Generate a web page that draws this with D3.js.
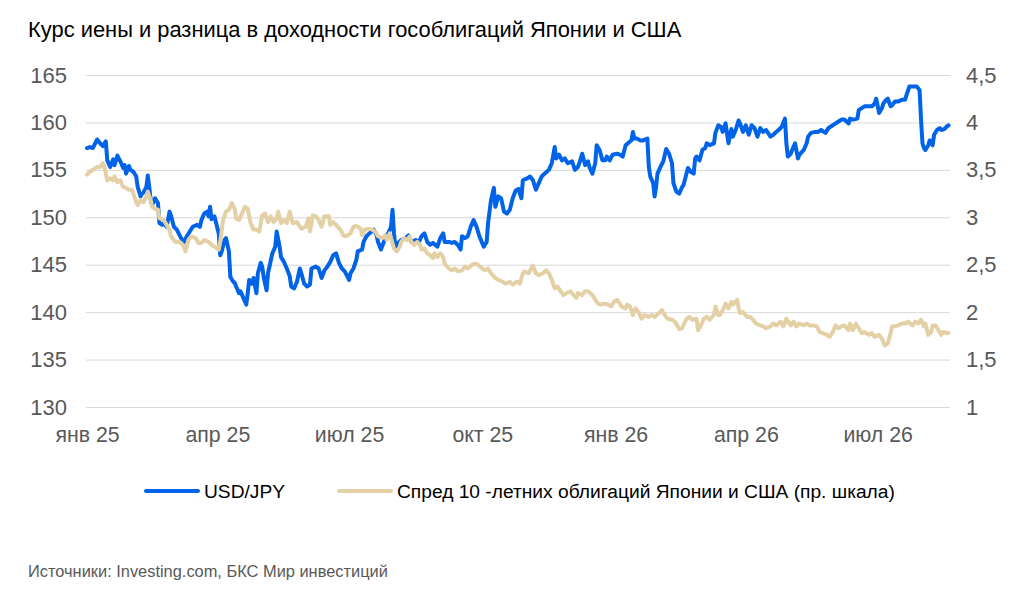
<!DOCTYPE html>
<html>
<head>
<meta charset="utf-8">
<script src="https://cdn.jsdelivr.net/npm/d3@7"></script>
<style>
  body { margin: 0; background: #fff; }
  svg { display: block; font-family: Arial, "Liberation Sans", sans-serif; }
</style>
</head>
<body>
<div id="chart"></div>
<script>
// Data
const title = "Курс иены и разница в доходности гособлигаций Японии и США";
const source = "Источники: Investing.com, БКС Мир инвестиций";
const seriesNames = ["USD/JPY", "Спред 10 -летних облигаций Японии и США (пр. шкала)"];

const xTickDates = ["2025-01-01", "2025-04-01", "2025-07-01", "2025-10-01", "2026-01-01", "2026-04-01", "2026-07-01"];
const xTickLabels = ["янв 25", "апр 25", "июл 25", "окт 25", "янв 26", "апр 26", "июл 26"];
const leftTicks = [130, 135, 140, 145, 150, 155, 160, 165];
const rightTicks = [1, 1.5, 2, 2.5, 3, 3.5, 4, 4.5];

const usdjpy = [
  ["2025-01-01",157.3],["2025-01-03",157.4],["2025-01-05",157.3],["2025-01-08",158.2],["2025-01-10",157.8],
  ["2025-01-12",157.5],["2025-01-14",158.0],["2025-01-15",156.0],["2025-01-17",155.3],["2025-01-19",156.1],
  ["2025-01-20",155.5],["2025-01-22",156.5],["2025-01-24",155.9],["2025-01-26",155.2],["2025-01-27",155.5],
  ["2025-01-28",154.6],["2025-01-30",155.4],["2025-01-31",155.0],["2025-02-02",154.8],["2025-02-04",154.3],
  ["2025-02-05",153.2],["2025-02-07",152.2],["2025-02-08",152.5],["2025-02-09",152.6],["2025-02-11",153.2],
  ["2025-02-12",154.4],["2025-02-13",153.2],["2025-02-14",151.8],["2025-02-15",151.3],["2025-02-17",152.0],
  ["2025-02-19",151.5],["2025-02-20",149.4],["2025-02-22",149.2],["2025-02-23",149.4],["2025-02-25",149.0],
  ["2025-02-27",150.6],["2025-02-28",150.2],["2025-03-02",149.0],["2025-03-04",148.7],["2025-03-06",148.1],
  ["2025-03-07",147.8],["2025-03-09",147.4],["2025-03-11",148.0],["2025-03-13",148.5],["2025-03-15",149.0],
  ["2025-03-18",149.2],["2025-03-20",149.0],["2025-03-21",149.7],["2025-03-23",150.4],["2025-03-25",150.6],
  ["2025-03-26",150.1],["2025-03-27",151.1],["2025-03-28",149.8],["2025-03-30",150.1],["2025-03-31",149.5],
  ["2025-04-02",148.3],["2025-04-03",146.0],["2025-04-04",146.4],["2025-04-06",147.6],["2025-04-07",147.8],
  ["2025-04-09",146.4],["2025-04-10",143.7],["2025-04-12",143.2],["2025-04-13",143.1],["2025-04-14",142.7],
  ["2025-04-16",142.0],["2025-04-17",142.2],["2025-04-19",141.5],["2025-04-21",140.8],["2025-04-22",142.0],
  ["2025-04-23",143.4],["2025-04-25",143.0],["2025-04-26",143.6],["2025-04-28",142.0],["2025-04-29",144.1],
  ["2025-05-01",145.2],["2025-05-02",144.8],["2025-05-03",143.7],["2025-05-05",142.3],["2025-05-06",144.1],
  ["2025-05-08",145.5],["2025-05-09",146.2],["2025-05-11",146.9],["2025-05-12",148.5],["2025-05-14",146.9],
  ["2025-05-15",145.8],["2025-05-17",145.3],["2025-05-19",144.6],["2025-05-21",143.8],["2025-05-22",142.7],
  ["2025-05-24",142.5],["2025-05-26",143.2],["2025-05-28",144.6],["2025-05-29",144.1],["2025-05-31",143.0],
  ["2025-06-02",142.7],["2025-06-04",142.9],["2025-06-05",144.6],["2025-06-08",144.8],["2025-06-10",144.6],
  ["2025-06-12",143.6],["2025-06-14",144.4],["2025-06-16",144.8],["2025-06-18",145.3],["2025-06-20",146.0],
  ["2025-06-22",146.2],["2025-06-24",145.2],["2025-06-26",144.6],["2025-06-28",144.3],["2025-07-01",143.4],
  ["2025-07-02",144.1],["2025-07-04",144.6],["2025-07-06",145.5],["2025-07-07",146.4],["2025-07-10",146.6],
  ["2025-07-11",147.4],["2025-07-13",148.0],["2025-07-15",148.3],["2025-07-18",148.7],["2025-07-20",148.1],
  ["2025-07-21",147.4],["2025-07-23",146.6],["2025-07-25",147.4],["2025-07-26",148.0],["2025-07-28",148.3],
  ["2025-07-30",149.0],["2025-07-31",150.8],["2025-08-01",148.3],["2025-08-02",146.9],["2025-08-04",147.3],
  ["2025-08-06",147.6],["2025-08-09",147.8],["2025-08-11",148.1],["2025-08-13",147.4],["2025-08-16",147.6],
  ["2025-08-18",147.3],["2025-08-20",148.0],["2025-08-22",148.3],["2025-08-24",147.4],["2025-08-26",147.1],
  ["2025-08-28",147.3],["2025-08-31",146.9],["2025-09-02",147.8],["2025-09-04",148.3],["2025-09-05",147.4],
  ["2025-09-08",147.4],["2025-09-10",147.3],["2025-09-12",147.4],["2025-09-14",147.1],["2025-09-16",146.6],
  ["2025-09-17",148.0],["2025-09-19",147.8],["2025-09-21",148.0],["2025-09-23",149.0],["2025-09-25",149.7],
  ["2025-09-27",149.0],["2025-09-29",148.0],["2025-10-02",146.9],["2025-10-04",147.4],["2025-10-05",149.4],
  ["2025-10-07",151.8],["2025-10-09",153.1],["2025-10-10",151.1],["2025-10-12",152.2],["2025-10-14",152.0],
  ["2025-10-16",150.6],["2025-10-18",150.4],["2025-10-20",150.8],["2025-10-22",152.0],["2025-10-24",152.8],
  ["2025-10-26",153.0],["2025-10-28",152.0],["2025-10-29",153.9],["2025-11-01",154.1],["2025-11-03",154.3],
  ["2025-11-05",153.9],["2025-11-07",152.9],["2025-11-09",153.6],["2025-11-11",154.3],["2025-11-13",154.6],
  ["2025-11-16",155.0],["2025-11-18",155.7],["2025-11-20",157.4],["2025-11-21",156.2],["2025-11-23",156.6],
  ["2025-11-25",156.0],["2025-11-27",156.2],["2025-11-29",155.7],["2025-12-02",155.9],["2025-12-04",155.0],
  ["2025-12-06",155.3],["2025-12-07",155.7],["2025-12-09",156.7],["2025-12-11",155.5],["2025-12-13",155.9],
  ["2025-12-14",155.3],["2025-12-16",154.6],["2025-12-18",155.7],["2025-12-19",157.6],["2025-12-21",157.1],
  ["2025-12-23",156.0],["2025-12-25",156.0],["2025-12-26",156.4],["2025-12-28",156.0],["2025-12-30",156.6],
  ["2026-01-02",156.7],["2026-01-04",156.6],["2026-01-06",156.4],["2026-01-08",157.6],["2026-01-11",158.0],
  ["2026-01-12",158.1],["2026-01-13",159.0],["2026-01-14",158.3],["2026-01-16",158.3],["2026-01-18",158.1],
  ["2026-01-20",158.1],["2026-01-23",158.3],["2026-01-24",155.3],["2026-01-25",154.3],["2026-01-27",153.6],
  ["2026-01-28",152.2],["2026-01-29",153.2],["2026-01-30",154.6],["2026-02-01",155.3],["2026-02-03",155.9],
  ["2026-02-05",157.2],["2026-02-07",156.7],["2026-02-09",155.7],["2026-02-10",153.6],["2026-02-12",152.7],
  ["2026-02-14",152.5],["2026-02-16",153.2],["2026-02-17",153.4],["2026-02-19",154.6],["2026-02-20",155.2],
  ["2026-02-22",154.8],["2026-02-24",154.6],["2026-02-25",156.2],["2026-02-26",156.4],["2026-02-28",156.0],
  ["2026-03-02",157.1],["2026-03-04",157.3],["2026-03-05",157.8],["2026-03-07",157.6],["2026-03-10",157.8],
  ["2026-03-11",158.9],["2026-03-13",159.7],["2026-03-15",159.5],["2026-03-16",159.0],["2026-03-18",159.9],
  ["2026-03-20",157.8],["2026-03-22",159.3],["2026-03-23",158.5],["2026-03-25",159.2],["2026-03-27",160.2],
  ["2026-03-28",159.9],["2026-03-30",159.0],["2026-04-01",159.7],["2026-04-03",158.7],["2026-04-05",159.7],
  ["2026-04-07",159.4],["2026-04-09",158.5],["2026-04-11",159.4],["2026-04-13",159.0],["2026-04-15",159.2],
  ["2026-04-18",158.5],["2026-04-20",158.7],["2026-04-22",159.0],["2026-04-25",159.4],["2026-04-26",159.6],
  ["2026-04-28",160.4],["2026-04-29",157.8],["2026-04-30",156.4],["2026-05-02",156.7],["2026-05-03",157.1],
  ["2026-05-05",157.8],["2026-05-07",156.2],["2026-05-08",156.6],["2026-05-11",157.1],["2026-05-13",157.8],
  ["2026-05-14",158.5],["2026-05-16",158.9],["2026-05-19",159.0],["2026-05-21",159.0],["2026-05-23",159.2],
  ["2026-05-26",158.9],["2026-05-28",159.4],["2026-05-30",159.6],["2026-06-02",159.9],["2026-06-04",160.1],
  ["2026-06-06",160.3],["2026-06-08",160.3],["2026-06-11",159.9],["2026-06-12",160.4],["2026-06-14",160.3],
  ["2026-06-17",160.4],["2026-06-18",161.3],["2026-06-20",161.5],["2026-06-22",161.7],["2026-06-25",161.7],
  ["2026-06-27",161.7],["2026-06-29",162.0],["2026-06-30",162.5],["2026-07-01",161.8],["2026-07-02",161.0],
  ["2026-07-04",161.5],["2026-07-05",162.0],["2026-07-07",162.4],["2026-07-08",162.5],["2026-07-10",161.7],
  ["2026-07-11",161.8],["2026-07-13",162.2],["2026-07-15",162.2],["2026-07-18",162.4],["2026-07-20",162.4],
  ["2026-07-21",162.9],["2026-07-23",163.8],["2026-07-25",163.8],["2026-07-28",163.8],["2026-07-30",163.4],
  ["2026-07-31",160.3],["2026-08-01",157.8],["2026-08-02",157.3],["2026-08-03",157.1],["2026-08-05",157.6],
  ["2026-08-06",158.1],["2026-08-08",157.6],["2026-08-09",158.7],["2026-08-11",159.2],["2026-08-13",159.4],
  ["2026-08-14",159.2],["2026-08-16",159.3],["2026-08-18",159.6],["2026-08-19",159.7]
];

const spread = [
  ["2025-01-01",3.45],["2025-01-03",3.48],["2025-01-05",3.50],["2025-01-08",3.53],["2025-01-10",3.53],
  ["2025-01-12",3.57],["2025-01-13",3.53],["2025-01-15",3.39],["2025-01-17",3.41],["2025-01-19",3.39],
  ["2025-01-20",3.43],["2025-01-22",3.37],["2025-01-24",3.39],["2025-01-26",3.32],["2025-01-28",3.31],
  ["2025-01-30",3.29],["2025-02-01",3.29],["2025-02-02",3.25],["2025-02-04",3.16],["2025-02-05",3.13],
  ["2025-02-07",3.18],["2025-02-09",3.16],["2025-02-11",3.22],["2025-02-12",3.27],["2025-02-14",3.18],
  ["2025-02-15",3.11],["2025-02-17",3.09],["2025-02-19",3.08],["2025-02-20",2.99],["2025-02-23",2.97],
  ["2025-02-25",2.92],["2025-02-27",2.87],["2025-02-28",2.80],["2025-03-03",2.74],["2025-03-05",2.74],
  ["2025-03-07",2.73],["2025-03-09",2.69],["2025-03-10",2.64],["2025-03-12",2.76],["2025-03-14",2.80],
  ["2025-03-17",2.78],["2025-03-19",2.73],["2025-03-21",2.73],["2025-03-23",2.76],["2025-03-26",2.74],
  ["2025-03-28",2.71],["2025-03-30",2.69],["2025-04-02",2.66],["2025-04-03",2.74],["2025-04-05",2.97],
  ["2025-04-07",3.06],["2025-04-09",3.08],["2025-04-11",3.15],["2025-04-13",3.09],["2025-04-14",2.99],
  ["2025-04-16",2.97],["2025-04-18",3.04],["2025-04-20",3.11],["2025-04-22",3.09],["2025-04-24",2.94],
  ["2025-04-26",2.87],["2025-04-28",2.87],["2025-04-30",2.85],["2025-05-02",3.02],["2025-05-04",3.04],
  ["2025-05-06",2.95],["2025-05-08",3.01],["2025-05-10",2.95],["2025-05-12",2.99],["2025-05-13",3.06],
  ["2025-05-15",2.94],["2025-05-17",2.97],["2025-05-19",2.94],["2025-05-21",3.06],["2025-05-23",2.94],
  ["2025-05-26",2.95],["2025-05-29",2.88],["2025-06-01",2.90],["2025-06-03",2.99],["2025-06-04",2.85],
  ["2025-06-06",3.02],["2025-06-08",3.01],["2025-06-10",2.97],["2025-06-12",2.90],["2025-06-14",3.01],
  ["2025-06-17",3.01],["2025-06-18",2.92],["2025-06-20",2.95],["2025-06-22",2.92],["2025-06-25",2.87],
  ["2025-06-27",2.81],["2025-06-29",2.80],["2025-07-02",2.83],["2025-07-04",2.90],["2025-07-06",2.91],
  ["2025-07-09",2.88],["2025-07-10",2.81],["2025-07-12",2.87],["2025-07-14",2.88],["2025-07-17",2.87],
  ["2025-07-19",2.85],["2025-07-21",2.80],["2025-07-24",2.78],["2025-07-26",2.81],["2025-07-27",2.76],
  ["2025-07-29",2.83],["2025-07-30",2.78],["2025-08-01",2.67],["2025-08-03",2.64],["2025-08-05",2.69],
  ["2025-08-06",2.74],["2025-08-08",2.78],["2025-08-10",2.76],["2025-08-12",2.80],["2025-08-13",2.74],
  ["2025-08-15",2.71],["2025-08-17",2.74],["2025-08-19",2.71],["2025-08-20",2.66],["2025-08-22",2.67],
  ["2025-08-24",2.62],["2025-08-26",2.60],["2025-08-28",2.57],["2025-08-29",2.62],["2025-08-31",2.58],
  ["2025-09-02",2.62],["2025-09-04",2.58],["2025-09-05",2.51],["2025-09-08",2.46],["2025-09-10",2.44],
  ["2025-09-12",2.46],["2025-09-14",2.43],["2025-09-17",2.44],["2025-09-19",2.48],["2025-09-21",2.46],
  ["2025-09-24",2.50],["2025-09-26",2.51],["2025-09-28",2.50],["2025-10-01",2.46],["2025-10-03",2.44],
  ["2025-10-05",2.46],["2025-10-07",2.41],["2025-10-10",2.36],["2025-10-12",2.34],["2025-10-14",2.33],
  ["2025-10-17",2.30],["2025-10-20",2.32],["2025-10-22",2.29],["2025-10-25",2.32],["2025-10-27",2.30],
  ["2025-10-29",2.41],["2025-10-30",2.43],["2025-11-02",2.41],["2025-11-03",2.44],["2025-11-05",2.49],
  ["2025-11-07",2.41],["2025-11-09",2.39],["2025-11-12",2.41],["2025-11-14",2.44],["2025-11-16",2.41],
  ["2025-11-18",2.34],["2025-11-20",2.25],["2025-11-22",2.27],["2025-11-24",2.22],["2025-11-26",2.18],
  ["2025-11-28",2.20],["2025-12-01",2.22],["2025-12-03",2.18],["2025-12-05",2.15],["2025-12-06",2.20],
  ["2025-12-09",2.18],["2025-12-11",2.22],["2025-12-13",2.22],["2025-12-16",2.18],["2025-12-18",2.13],
  ["2025-12-20",2.09],["2025-12-22",2.08],["2025-12-25",2.09],["2025-12-27",2.08],["2025-12-29",2.06],
  ["2025-12-31",2.11],["2026-01-02",2.13],["2026-01-04",2.09],["2026-01-05",2.06],["2026-01-08",2.04],
  ["2026-01-09",2.08],["2026-01-11",2.06],["2026-01-13",1.97],["2026-01-15",2.04],["2026-01-17",2.00],
  ["2026-01-19",1.93],["2026-01-21",1.97],["2026-01-24",1.95],["2026-01-26",1.97],["2026-01-28",1.95],
  ["2026-01-31",1.99],["2026-02-02",2.02],["2026-02-04",1.97],["2026-02-06",1.93],["2026-02-09",1.92],
  ["2026-02-11",1.90],["2026-02-13",1.85],["2026-02-14",1.82],["2026-02-16",1.83],["2026-02-19",1.93],
  ["2026-02-21",1.95],["2026-02-23",1.92],["2026-02-26",1.93],["2026-02-27",1.81],["2026-03-01",1.86],
  ["2026-03-03",1.93],["2026-03-05",1.95],["2026-03-07",1.92],["2026-03-10",1.97],["2026-03-11",2.06],
  ["2026-03-13",1.97],["2026-03-14",1.97],["2026-03-16",2.02],["2026-03-18",2.09],["2026-03-20",2.04],
  ["2026-03-22",2.11],["2026-03-23",2.08],["2026-03-26",2.13],["2026-03-27",2.04],["2026-03-28",1.99],
  ["2026-03-30",2.00],["2026-04-02",1.95],["2026-04-04",1.95],["2026-04-06",1.92],["2026-04-08",1.88],
  ["2026-04-11",1.86],["2026-04-13",1.85],["2026-04-15",1.83],["2026-04-18",1.85],["2026-04-20",1.88],
  ["2026-04-22",1.86],["2026-04-25",1.90],["2026-04-27",1.85],["2026-04-29",1.93],["2026-05-02",1.86],
  ["2026-05-04",1.90],["2026-05-06",1.85],["2026-05-08",1.88],["2026-05-11",1.86],["2026-05-13",1.88],
  ["2026-05-15",1.86],["2026-05-18",1.86],["2026-05-20",1.85],["2026-05-22",1.79],["2026-05-24",1.78],
  ["2026-05-27",1.76],["2026-05-29",1.74],["2026-05-31",1.79],["2026-06-02",1.86],["2026-06-04",1.83],
  ["2026-06-06",1.85],["2026-06-08",1.86],["2026-06-11",1.81],["2026-06-12",1.88],["2026-06-14",1.81],
  ["2026-06-16",1.88],["2026-06-18",1.83],["2026-06-20",1.78],["2026-06-22",1.79],["2026-06-25",1.76],
  ["2026-06-27",1.78],["2026-06-29",1.74],["2026-07-02",1.76],["2026-07-04",1.72],["2026-07-06",1.65],
  ["2026-07-08",1.67],["2026-07-10",1.78],["2026-07-11",1.85],["2026-07-13",1.85],["2026-07-15",1.86],
  ["2026-07-18",1.88],["2026-07-20",1.88],["2026-07-22",1.90],["2026-07-25",1.86],["2026-07-27",1.90],
  ["2026-07-29",1.88],["2026-07-31",1.92],["2026-08-02",1.85],["2026-08-03",1.88],["2026-08-05",1.76],
  ["2026-08-07",1.79],["2026-08-08",1.86],["2026-08-10",1.86],["2026-08-12",1.81],["2026-08-14",1.76],
  ["2026-08-15",1.79],["2026-08-18",1.78],["2026-08-19",1.78]
];

// Layout
const width = 1024;
const height = 593;
const plotLeft = 87, plotRight = 950, plotTop = 75, plotBottom = 407;
const colorUsd = "#0063e8";
const colorSpread = "#e3d0a5";
const tickColor = "#595959";
const gridColor = "#d9d9d9";
const fontFamily = "Arial, 'Liberation Sans', sans-serif";

const parse = d3.timeParse("%Y-%m-%d");
const commaFmt = d => String(d).replace(".", ",");

const x = d3.scaleTime()
    .domain([parse("2025-01-01"), parse("2026-08-20")])
    .range([plotLeft, plotRight]);
const yLeft = d3.scaleLinear().domain([130, 165]).range([plotBottom, plotTop]);
const yRight = d3.scaleLinear().domain([1, 4.5]).range([plotBottom, plotTop]);

const svg = d3.select("#chart").append("svg")
    .attr("width", width)
    .attr("height", height)
    .style("background", "#fff");

// Title
svg.append("text")
    .attr("x", 28).attr("y", 37)
    .attr("font-size", 21.9)
    .attr("fill", "#000")
    .text(title);

// Gridlines + left axis
const gLeft = svg.append("g")
    .attr("transform", `translate(${plotLeft - 1},0)`)
    .call(d3.axisLeft(yLeft).tickValues(leftTicks)
        .tickSize(-(plotRight - plotLeft + 1))
        .tickPadding(19)
        .tickFormat(d3.format("d")));
gLeft.select(".domain").remove();
gLeft.selectAll(".tick line").attr("stroke", gridColor).attr("stroke-width", 1);
gLeft.selectAll(".tick text")
    .attr("fill", tickColor)
    .attr("font-size", 22)
    .attr("font-family", fontFamily);

// Right axis
const gRight = svg.append("g")
    .attr("transform", `translate(${plotRight},0)`)
    .call(d3.axisRight(yRight).tickValues(rightTicks)
        .tickSize(0)
        .tickPadding(16)
        .tickFormat(commaFmt));
gRight.select(".domain").remove();
gRight.selectAll(".tick text")
    .attr("fill", tickColor)
    .attr("font-size", 22)
    .attr("font-family", fontFamily);

// Bottom axis labels
const gBottom = svg.append("g")
    .attr("transform", `translate(0,${plotBottom})`)
    .call(d3.axisBottom(x)
        .tickValues(xTickDates.map(parse))
        .tickSize(0)
        .tickPadding(20)
        .tickFormat((d, i) => xTickLabels[i]));
gBottom.select(".domain").remove();
gBottom.selectAll(".tick text")
    .attr("fill", tickColor)
    .attr("font-size", 21.3)
    .attr("font-family", fontFamily);

// Lines
const lineUsd = d3.line()
    .x(d => x(parse(d[0])))
    .y(d => yLeft(d[1]));
const lineSpread = d3.line()
    .x(d => x(parse(d[0])))
    .y(d => yRight(d[1]));

svg.append("path")
    .datum(usdjpy)
    .attr("fill", "none")
    .attr("stroke", colorUsd)
    .attr("stroke-width", 4)
    .attr("stroke-linejoin", "round")
    .attr("stroke-linecap", "round")
    .attr("d", lineUsd);

svg.append("path")
    .datum(spread)
    .attr("fill", "none")
    .attr("stroke", colorSpread)
    .attr("stroke-width", 4)
    .attr("stroke-linejoin", "round")
    .attr("stroke-linecap", "round")
    .attr("d", lineSpread);

// Legend
const legendItems = [
  { name: seriesNames[0], color: colorUsd, x: 144 },
  { name: seriesNames[1], color: colorSpread, x: 337 }
];
const legend = svg.append("g").attr("transform", "translate(0,491)");
legendItems.forEach(item => {
  legend.append("line")
      .attr("x1", item.x + 2).attr("x2", item.x + 54)
      .attr("stroke", item.color)
      .attr("stroke-width", 4)
      .attr("stroke-linecap", "round");
  legend.append("text")
      .attr("x", item.x + 60)
      .attr("y", 6.5)
      .attr("font-size", 19.2)
      .attr("fill", "#000")
      .text(item.name);
});

// Source
svg.append("text")
    .attr("x", 28).attr("y", 577)
    .attr("font-size", 16.4)
    .attr("fill", tickColor)
    .text(source);
</script>
</body>
</html>
